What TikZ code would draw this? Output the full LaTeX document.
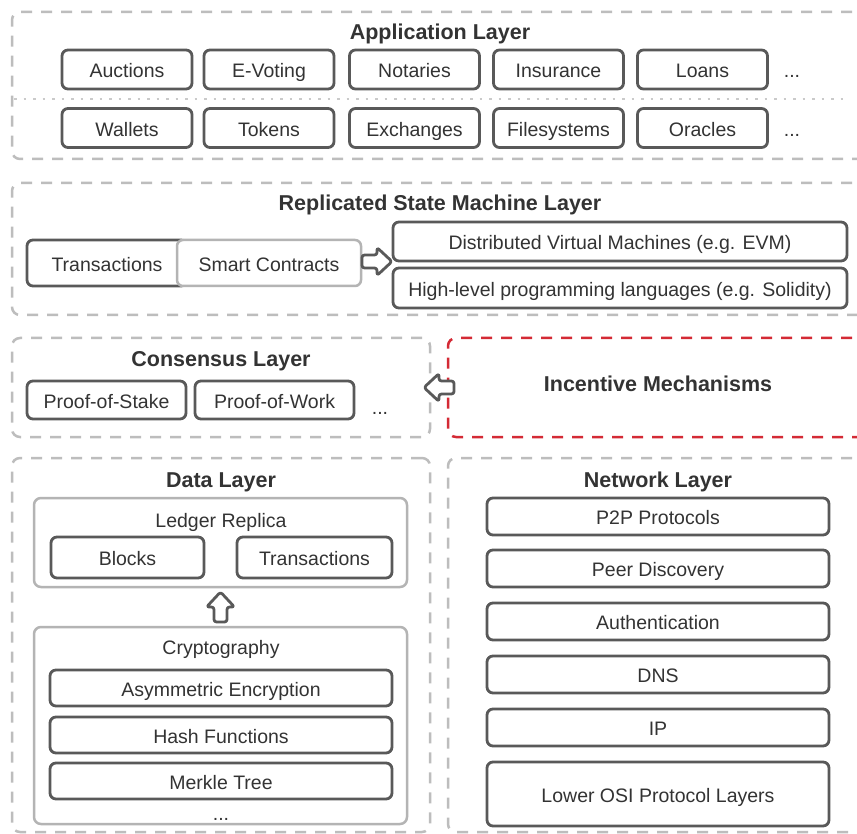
\documentclass[tikz,border=0pt]{standalone}
\usepackage{fontspec}
\setmainfont{Liberation Sans}
\usetikzlibrary{calc}

\definecolor{ink}{HTML}{333333}
\definecolor{boxline}{HTML}{595959}
\definecolor{softline}{HTML}{B4B4B4}
\definecolor{layerline}{HTML}{BDBDBD}
\definecolor{incred}{HTML}{D42A35}

\tikzset{
  every node/.style={text=ink, inner sep=0pt, outer sep=0pt},
  txt/.style={font=\fontsize{19.5}{23}\selectfont, text height=16.5pt, text depth=0pt},
  head/.style={font=\fontsize{21.5}{26}\bfseries\selectfont, text height=15.5pt, text depth=0pt},
  layer/.style={draw=layerline, line width=2.5pt, dash pattern=on 11pt off 9pt,
                rounded corners=8pt, anchor=north west},
  redlayer/.style={layer, draw=incred},
  box/.style={txt, draw=boxline, line width=2.8pt, rounded corners=6pt, fill=white},
  softbox/.style={txt, draw=softline, line width=2.5pt, rounded corners=6pt, fill=white},
  outerbox/.style={draw=softline, line width=2.5pt, rounded corners=7pt, anchor=north west},
  appbox/.style={box, minimum width=130pt, minimum height=39pt},
  netbox/.style={box, minimum width=342pt, minimum height=37pt},
  cryptobox/.style={box, minimum width=342pt, minimum height=36pt},
  sep/.style={draw=layerline!80, line width=2pt, dash pattern=on 2.5pt off 7pt},
  arrowstyle/.style={draw=boxline, line width=2.8pt, fill=white, rounded corners=2.5pt, line join=round},
  blockarrow/.pic={\draw[arrowstyle] (-15,-6.5) -- (0,-6.5) -- (0,-14) -- (15,0) -- (0,14) -- (0,6.5) -- (-15,6.5) -- cycle;}
}

\begin{document}
\begin{tikzpicture}[x=1pt, y=-1pt]
\clip (0,0) rectangle (857,834);
\fill[white] (0,0) rectangle (857,834);

% ---------- Application layer ----------
\node[layer, minimum width=868pt, minimum height=147pt] (app) at (12,12) {};
\node[head] (apptitle) at (440,32) {Application Layer};
\draw[sep] (14,99) -- (847,99);
\node[appbox] (auc) at (127,69.5) {Auctions};
\node[appbox] (evo) at (269,69.5) {E-Voting};
\node[appbox] (not) at (414.5,69.5) {Notaries};
\node[appbox] (ins) at (558.5,69.5) {Insurance};
\node[appbox] (loa) at (702.5,69.5) {Loans};
\node[txt] (more1) at (792,69) {...};
\node[appbox] (wal) at (127,128) {Wallets};
\node[appbox] (tok) at (269,128) {Tokens};
\node[appbox] (exc) at (414.5,128) {Exchanges};
\node[appbox] (fil) at (558.5,128) {Filesystems};
\node[appbox] (ora) at (702.5,128) {Oracles};
\node[txt] (more2) at (792,128) {...};

% ---------- Replicated state machine layer ----------
\node[layer, minimum width=868pt, minimum height=132pt] (rsm) at (12,183) {};
\node[head] (rsmtitle) at (440,203) {Replicated State Machine Layer};
\node[box, minimum width=160pt, minimum height=46pt] (tx) at (107,263) {Transactions};
\node[softbox, minimum width=184pt, minimum height=46pt] (sc) at (269,263) {Smart Contracts};
\node[box, minimum width=454pt, minimum height=39pt] (dvm) at (620,241.5) {Distributed Virtual Machines (e.g. EVM)};
\node[box, minimum width=454pt, minimum height=40pt] (hll) at (620,288) {High-level programming languages (e.g. Solidity)};
\pic at ($(sc.east)!0.5!(sc.east -| dvm.west)+(0,-1.5)$) {blockarrow};

% ---------- Consensus layer and incentives ----------
\node[layer, minimum width=418pt, minimum height=99pt] (cons) at (12,338) {};
\node[head] (constitle) at (221,359) {Consensus Layer};
\node[box, minimum width=159pt, minimum height=38pt] (pos) at (106.5,400) {Proof-of-Stake};
\node[box, minimum width=159pt, minimum height=38pt] (pow) at (274.5,400) {Proof-of-Work};
\node[txt] (more3) at (380,406) {...};
\node[redlayer, minimum width=432pt, minimum height=99pt] (inc) at (448,338) {};
\node[head] (inctitle) at (658,384) {Incentive Mechanisms};
\pic[rotate=180] at ($(cons.east)!0.5!(inc.west)$) {blockarrow};

% ---------- Data layer ----------
\node[layer, minimum width=418pt, minimum height=374pt] (data) at (12,458) {};
\node[head] (datatitle) at (221,480) {Data Layer};
\node[outerbox, minimum width=373pt, minimum height=89pt] (ledger) at (34,498) {};
\node[txt] (ledgertitle) at (221,519) {Ledger Replica};
\node[box, minimum width=153pt, minimum height=41pt] (blk) at (127.5,557.5) {Blocks};
\node[box, minimum width=155pt, minimum height=41pt] (ltx) at (314.5,557.5) {Transactions};
\node[outerbox, minimum width=373pt, minimum height=197pt] (crypto) at (34,627) {};
\node[txt] (cryptotitle) at (221,646) {Cryptography};
\node[cryptobox] (ae) at (221,688) {Asymmetric Encryption};
\node[cryptobox] (hf) at (221,735) {Hash Functions};
\node[cryptobox] (mt) at (221,781) {Merkle Tree};
\node[txt] (more4) at (221,812) {...};
\pic[rotate=90] at ($(ledger.south)!0.5!(crypto.north)$) {blockarrow};

% ---------- Network layer ----------
\node[layer, minimum width=432pt, minimum height=374pt] (net) at (448,458) {};
\node[head] (nettitle) at (658,480) {Network Layer};
\node[netbox] (p2p) at (658,516.5) {P2P Protocols};
\node[netbox] (peer) at (658,568.5) {Peer Discovery};
\node[netbox] (auth) at (658,621.5) {Authentication};
\node[netbox] (dns) at (658,674.5) {DNS};
\node[netbox] (ip) at (658,727.5) {IP};
\node[box, minimum width=342pt, minimum height=64pt] (osi) at (658,794) {Lower OSI Protocol Layers};
\end{tikzpicture}
\end{document}
